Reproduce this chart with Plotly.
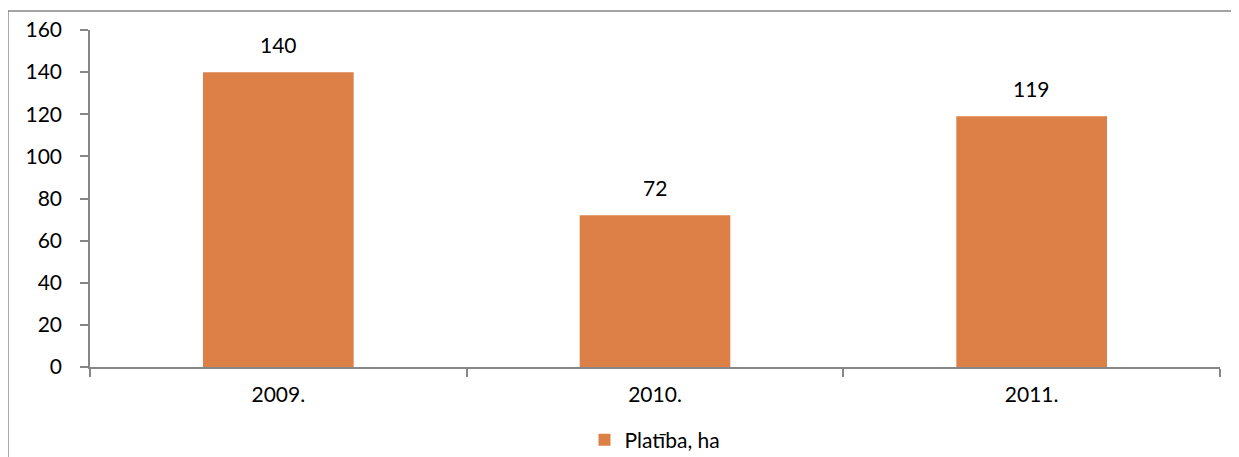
import plotly.graph_objects as go

categories = ["2009.", "2010.", "2011."]
values = [140, 72, 119]
series_name = "Platība, ha"

FONT = "Lato, Open Sans, sans-serif"

fig = go.Figure()
fig.add_trace(go.Bar(
    x=categories, y=values, name=series_name,
    marker=dict(color="#DD8047", line=dict(width=0)),
    width=0.4,
    showlegend=True,
))

for i, v in enumerate(values):
    fig.add_annotation(x=i, y=v, text=str(v), showarrow=False,
                       xref="x", yref="y",
                       yanchor="middle", yshift=28,
                       font=dict(size=21, color="#000000", family=FONT))

# page body has an 8px margin, so compensate
fig.update_layout(
    width=1239, height=457,
    margin=dict(l=82, r=27, t=22, b=98, autoexpand=False),
    paper_bgcolor="white", plot_bgcolor="white",
    font=dict(family=FONT, size=21, color="#000000"),
    showlegend=True,
    legend=dict(orientation="h", x=0.5, xanchor="center", y=-0.217, yanchor="middle",
                font=dict(size=21)),
    xaxis=dict(type="category", range=[-0.5, 2.5], showline=True, linecolor="#868686",
               linewidth=1.5, ticks="outside", tickson="boundaries", ticklen=8,
               tickcolor="#868686", tickwidth=1.5, showgrid=False, zeroline=False,
               tickfont=dict(size=21), automargin=False, ticklabelstandoff=8),
    yaxis=dict(range=[0, 160], dtick=20, showline=True, linecolor="#868686",
               linewidth=1.5, ticks="outside", ticklen=8, tickcolor="#868686",
               tickwidth=1.5, showgrid=False, zeroline=False,
               tickfont=dict(size=21), automargin=False, ticklabelstandoff=14),
    shapes=[
        dict(type="line", xref="paper", yref="paper", x0=-0.0726, x1=1.2,
             y0=1.0564, y1=1.0564, line=dict(color="#868686", width=1.5)),
        dict(type="line", xref="paper", yref="paper", x0=-0.0726, x1=-0.0726,
             y0=1.0564, y1=-0.5, line=dict(color="#868686", width=1.5)),
    ],
)

fig.write_html("out.html")
